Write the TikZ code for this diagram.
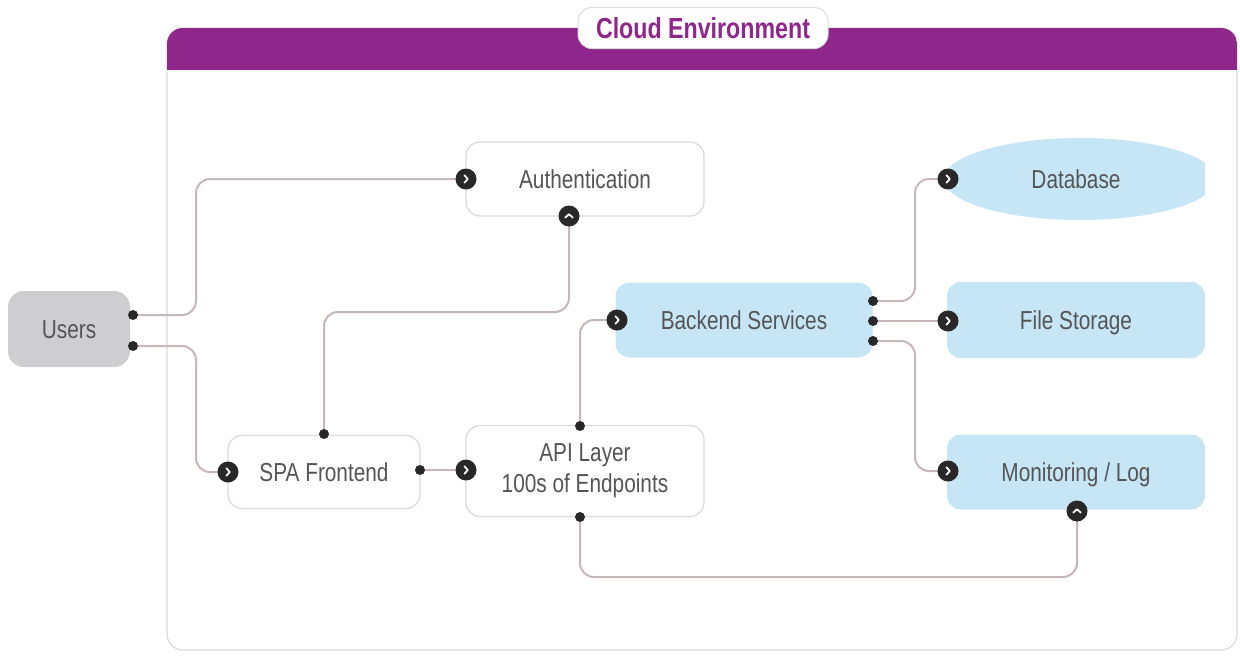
\documentclass[tikz,border=0pt]{standalone}
\usepackage{fontspec}
\setmainfont{Liberation Sans}[FakeStretch=0.8]
\usetikzlibrary{shapes.geometric}
\definecolor{cpurple}{RGB}{142,38,140}
\definecolor{cblue}{RGB}{198,230,246}
\definecolor{cgray}{RGB}{206,206,208}
\definecolor{linec}{RGB}{198,184,184}
\definecolor{borderc}{RGB}{222,218,218}
\definecolor{textc}{RGB}{85,85,85}
\definecolor{dotc}{RGB}{40,40,40}
\tikzset{
  lbl/.style={font=\fontsize{26}{31}\selectfont, text=textc, align=center, inner sep=0},
  one/.style={text height=24, text depth=5.4},
  wbox/.style={lbl, draw=borderc, line width=1.3, fill=white, rounded corners=14},
  bbox/.style={lbl, fill=cblue, rounded corners=14},
  conn/.style={draw=linec, line width=2, rounded corners=14},
  dot/.style={circle, fill=dotc, inner sep=0, minimum size=10},
  portr/.style={circle, fill=dotc, inner sep=0, minimum size=21,
    path picture={\draw[white, line width=1.8, line cap=round, line join=round]
      ([shift={(-1.6pt,3.8pt)}]path picture bounding box.center) -- ++(3.4pt,-3.8pt) -- ++(-3.4pt,-3.8pt);}},
  portu/.style={circle, fill=dotc, inner sep=0, minimum size=21,
    path picture={\draw[white, line width=1.8, line cap=round, line join=round]
      ([shift={(-3.8pt,-1.6pt)}]path picture bounding box.center) -- ++(3.8pt,3.4pt) -- ++(3.8pt,-3.4pt);}}
}
\begin{document}
\begin{tikzpicture}[x=1pt,y=-1pt]
\useasboundingbox[fill=white] (0,0) rectangle (1240,656);
% container
\draw[draw=borderc, line width=1.2, fill=white, rounded corners=16] (167,28) rectangle (1237,650);
\begin{scope}
  \clip[rounded corners=16] (167,28) rectangle (1237,650);
  \fill[cpurple] (167,28) rectangle (1237,70);
\end{scope}
\node[draw=borderc, line width=1, fill=white, rounded corners=14, minimum width=250, minimum height=41,
      font=\fontsize{29}{32}\selectfont\bfseries, text=cpurple, inner sep=0] (title) at (703,28) {Cloud Environment};

% boxes
\node[lbl, one, fill=cgray, rounded corners=16, minimum width=122, minimum height=76] (users) at (69,329) {Users};
\node[wbox, one, minimum width=238, minimum height=74] (auth) at (585,179) {Authentication};
\node[wbox, one, minimum width=192, minimum height=73] (spa) at (324,472) {SPA Frontend};
\node[wbox, minimum width=238, minimum height=91] (api) at (585,471) {API Layer\\100s of Endpoints};
\node[bbox, one, minimum width=257, minimum height=75] (be) at (744,320) {Backend Services};
\begin{scope}
  \clip (900,120) rectangle (1205,240);
  \node[ellipse, fill=cblue, inner sep=0, minimum width=272, minimum height=82] (dbshape) at (1080,179) {};
\end{scope}
\node[lbl, one] (db) at (1076,179) {Database};
\node[bbox, one, minimum width=258, minimum height=76] (fs) at (1076,320) {File Storage};
\node[bbox, one, minimum width=258, minimum height=75] (mon) at (1076,472) {Monitoring / Log};

% ports
\coordinate (u1) at (133,315);
\coordinate (u2) at (133,346);
\coordinate (authin) at (466,179);
\coordinate (authbot) at (569,216);
\coordinate (spain) at (228,472);
\coordinate (spatop) at (324,434);
\coordinate (spaout) at (420,470);
\coordinate (apiin) at (466,470);
\coordinate (apitop) at (580,426);
\coordinate (apibot) at (580,517);
\coordinate (bein) at (617,320);
\coordinate (beo1) at (873,301);
\coordinate (beo2) at (873,321);
\coordinate (beo3) at (873,341);
\coordinate (dbin) at (948,179);
\coordinate (fsin) at (948,321);
\coordinate (monin) at (948,471);
\coordinate (monbot) at (1077,511);

% connectors
\draw[conn] (u1) -- ++(63,0) |- (authin);
\draw[conn] (u2) -- ++(63,0) |- (spain);
\draw[conn] (spatop) -- ++(0,-122) -| (authbot);
\draw[conn] (spaout) -- (apiin);
\draw[conn] (apitop) |- (bein);
\draw[conn] (apibot) -- ++(0,60) -| (monbot);
\draw[conn] (beo1) -- ++(42,0) |- (dbin);
\draw[conn] (beo2) -- (fsin);
\draw[conn] (beo3) -- ++(42,0) |- (monin);

% port markers
\foreach \p in {u1,u2,spatop,spaout,apitop,apibot,beo1,beo2,beo3}
  \node[dot] at (\p) {};
\foreach \p in {authin,spain,apiin,bein,dbin,fsin,monin}
  \node[portr] at (\p) {};
\foreach \p in {authbot,monbot}
  \node[portu] at (\p) {};
\end{tikzpicture}
\end{document}
